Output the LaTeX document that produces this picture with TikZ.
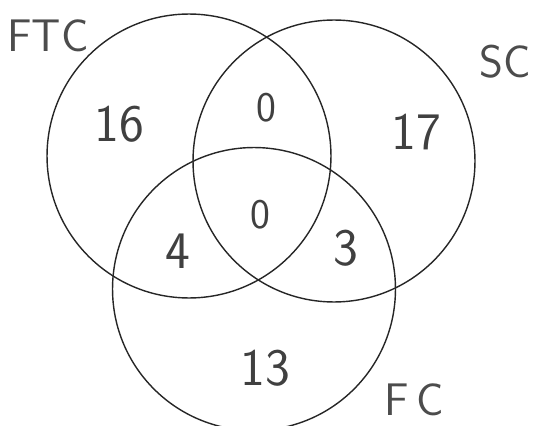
\documentclass[tikz,border=0pt]{standalone}
\usepackage{tikz}

\tikzset{
  ring/.style={line width=0.8pt,draw=black!85},
  count/.style={font=\sffamily\fontsize{30}{32}\selectfont,text=black!75},
  zero/.style={font=\sffamily\fontsize{24}{26}\selectfont,text=black!75},
  setname/.style={font=\sffamily\fontsize{26}{28}\selectfont,text=black!70}
}

\begin{document}
\begin{tikzpicture}[x=0.02cm,y=-0.02cm]
    \useasboundingbox (0,0) rectangle (538,426);

    % the three sets
    \coordinate (ftc) at (189,156);
    \coordinate (sc) at (334,161);
    \coordinate (fc) at (254,289);
    \draw[ring] (ftc) circle[radius=2.84cm];
    \draw[ring] (sc) circle[radius=2.82cm];
    \draw[ring] (fc) circle[radius=2.83cm];

    % names
    \node[setname] (nftc) at (48,36) {FTC};
    \node[setname] (nsc) at (505,62) {SC};
    \node[setname] (nfc) at (414,400) {F\,C};

    % counts
    \node[count] (only1) at (119,124) {16};
    \node[count] (only2) at (416,132) {17};
    \node[count] (only3) at (265,368) {13};
    \node[zero] (ab) at (266,108) {0};
    \node[count] (ac) at (178,251) {4};
    \node[count] (bc) at (346,248) {3};
    \node[zero] (abc) at (260,215) {0};
  \end{tikzpicture}
\end{document}
